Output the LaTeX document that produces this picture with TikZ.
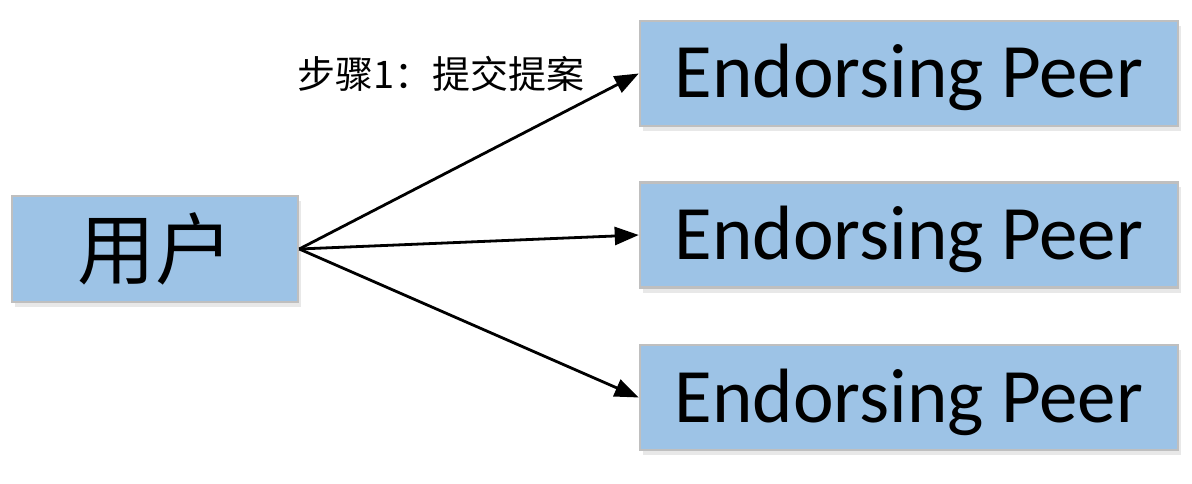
\documentclass[tikz,border=0pt]{standalone}
\usepackage{fontspec}
\setmainfont{Carlito}
\newfontfamily\cjk{Noto Sans CJK SC}
\usetikzlibrary{arrows.meta,shadows}
\definecolor{boxfill}{HTML}{9DC3E6}
\definecolor{boxline}{HTML}{BFBFBF}
\tikzset{
  box/.style={rectangle, fill=boxfill, draw=boxline, line width=2.5pt, inner sep=0pt,
    drop shadow={shadow xshift=3pt, shadow yshift=-5pt, opacity=0.18, fill=gray}},
  peerbox/.style={box, minimum width=538pt, minimum height=105pt, text height=49pt, text depth=0pt,
    font=\fontsize{77}{80}\selectfont},
  userbox/.style={box, minimum width=286pt, minimum height=106pt, font=\cjk\fontsize{78}{80}\selectfont},
  conn/.style={line width=2.8pt, -{Triangle[length=24pt,width=18pt]}},
}
\begin{document}
\begin{tikzpicture}[x=1pt,y=-1pt]
\useasboundingbox (0,0) rectangle (1192,484);
\node[userbox] (user) at (155,249) {用户};
\node[peerbox] (p1) at (909,73.5) {Endorsing Peer};
\node[peerbox] (p2) at (909,235) {Endorsing Peer};
\node[peerbox] (p3) at (909,397.5) {Endorsing Peer};
\node[font=\cjk\fontsize{38}{40}\selectfont, inner sep=0pt] (lbl) at (441,74) {步骤1：提交提案};
\draw[conn] (user.east) -- (p1.west);
\draw[conn] (user.east) -- (p2.west);
\draw[conn] (user.east) -- (p3.west);
\end{tikzpicture}
\end{document}
